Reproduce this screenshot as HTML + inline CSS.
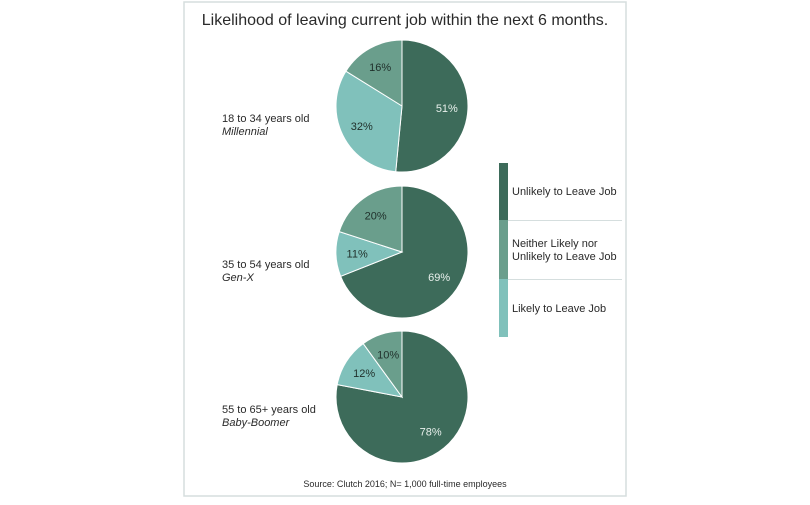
<!DOCTYPE html>
<html><head><meta charset="utf-8"><style>
body{margin:0;background:#fff;font-family:"Liberation Sans",sans-serif}
</style></head><body>
<svg width="810" height="500" xmlns="http://www.w3.org/2000/svg">
<rect x="184" y="2" width="442" height="494" fill="#fff" stroke="#d5dede" stroke-width="1.5"/>
<text x="405" y="25" text-anchor="middle" font-size="16" fill="#2a2a2a">Likelihood of leaving current job within the next 6 months.</text>
<g id="pies"></g>
<g>
<rect x="499" y="163" width="9" height="57" fill="#3d6b5a"/>
<rect x="499" y="220" width="9" height="59" fill="#6a9e8c"/>
<rect x="499" y="279" width="9" height="58" fill="#80c1bb"/>
<line x1="508" y1="220.5" x2="622" y2="220.5" stroke="#d5dede"/>
<line x1="508" y1="279.5" x2="622" y2="279.5" stroke="#d5dede"/>
<text x="512" y="195" font-size="11" fill="#2a2a2a">Unlikely to Leave Job</text>
<text x="512" y="247" font-size="11" fill="#2a2a2a">Neither Likely nor</text>
<text x="512" y="260" font-size="11" fill="#2a2a2a">Unlikely to Leave Job</text>
<text x="512" y="312" font-size="11" fill="#2a2a2a">Likely to Leave Job</text>
</g>
<text x="405" y="487" text-anchor="middle" font-size="9" fill="#2a2a2a">Source:  Clutch 2016; N= 1,000 full-time employees</text>
</svg>
<script>
const groups = ["18 to 34 years old","35 to 54 years old","55 to 65+ years old"];
const generations = ["Millennial","Gen-X","Baby-Boomer"];
const unlikely = [51,69,78];
const likely = [32,11,12];
const neither = [16,20,10];
const colors = {unlikely:"#3d6b5a", likely:"#80c1bb", neither:"#6a9e8c"};
const NS="http://www.w3.org/2000/svg";
const g=document.getElementById('pies');
const cx=402, r=66, cys=[106,252,397];
function pt(cy,a,rr){return [cx+rr*Math.sin(a), cy-rr*Math.cos(a)];}
function mk(t,attrs){const e=document.createElementNS(NS,t);for(const k in attrs)e.setAttribute(k,attrs[k]);return e;}
groups.forEach((grp,i)=>{
  const cy=cys[i];
  const vals=[["unlikely",unlikely[i]],["likely",likely[i]],["neither",neither[i]]];
  const tot=vals.reduce((s,v)=>s+v[1],0);
  let a0=0;
  vals.forEach(([key,v])=>{
    const a1=a0+v/tot*2*Math.PI;
    const p0=pt(cy,a0,r),p1=pt(cy,a1,r);
    const large=(a1-a0)>Math.PI?1:0;
    const path=mk('path',{d:`M${cx},${cy}L${p0[0]},${p0[1]}A${r},${r} 0 ${large} 1 ${p1[0]},${p1[1]}Z`,fill:colors[key],stroke:"#fff","stroke-width":"1"});
    
    
    g.appendChild(path);
    const m=(a0+a1)/2;const lp=pt(cy,m,r*0.68);
    const t=mk('text',{x:lp[0],y:lp[1]+4,"text-anchor":"middle","font-size":"11",fill:key==="unlikely"?"#e8f0ec":"#1f2f2a"});
    t.textContent=v+"%";
    
    
    g.appendChild(t);
    a0=a1;
  });
  const t1=mk('text',{x:222,y:cy+16,"font-size":"11",fill:"#2a2a2a"});t1.textContent=grp;
  
  
  g.appendChild(t1);
  const t2=mk('text',{x:222,y:cy+29,"font-size":"11","font-style":"italic",fill:"#2a2a2a"});t2.textContent=generations[i];
  
  
  g.appendChild(t2);
});
</script>
</body></html>
